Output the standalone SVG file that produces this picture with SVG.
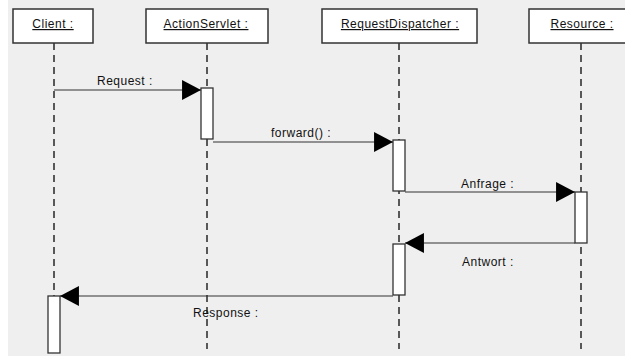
<svg xmlns="http://www.w3.org/2000/svg" width="625" height="356" viewBox="0 0 625 356">
<style>
.bg{fill:#efefef}
.obj{fill:#ffffff;stroke:#333333;stroke-width:1.5}
.act{fill:#ffffff;stroke:#333333;stroke-width:1.3}
.life{stroke:#333333;stroke-width:1.6;stroke-dasharray:7 5;fill:none}
.msg{stroke:#333333;stroke-width:1.2;fill:none;marker-end:url(#head)}
text{font-family:"Liberation Sans",Arial,sans-serif;font-size:12px;letter-spacing:0.5px;fill:#111111}
.hdr{text-anchor:middle;text-decoration:underline}
</style>
<defs>
<marker id="head" markerUnits="userSpaceOnUse" markerWidth="19" markerHeight="20" viewBox="0 0 18 19" refX="18" refY="9.5" orient="auto">
<path d="M0,0 L18,9.5 L0,19 Z" fill="#000000"/>
</marker>
</defs>
<rect x="0" y="0" width="625" height="356" fill="#ffffff"/>
<rect class="bg" x="8" y="0" width="617" height="356"/>
<g id="lifelines">
<line class="life" x1="54" y1="43" x2="54" y2="349"/>
<line class="life" x1="207" y1="43" x2="207" y2="349"/>
<line class="life" x1="399" y1="43" x2="399" y2="349"/>
<line class="life" x1="581" y1="43" x2="581" y2="349"/>
</g>
<g id="node-client">
<rect class="obj" x="13" y="9" width="80" height="34"/>
<text class="hdr" x="53" y="28">Client :</text>
<rect class="act" x="48" y="296" width="12" height="57"/>
</g>
<g id="node-actionservlet">
<rect class="obj" x="146" y="9" width="122" height="34"/>
<text class="hdr" x="206" y="28">ActionServlet :</text>
<rect class="act" x="201" y="88" width="12" height="51"/>
</g>
<g id="node-requestdispatcher">
<rect class="obj" x="322" y="9" width="155" height="34"/>
<text class="hdr" x="400" y="28">RequestDispatcher :</text>
<rect class="act" x="393" y="140" width="12" height="51"/>
<rect class="act" x="393" y="244" width="12" height="51"/>
</g>
<g id="node-resource">
<rect class="obj" x="529" y="9" width="102" height="34"/>
<text class="hdr" x="582" y="28">Resource :</text>
<rect class="act" x="575" y="192" width="12" height="51"/>
</g>
<g id="connectors">
<line class="msg" x1="54" y1="90" x2="201" y2="90"/>
<text x="97" y="85">Request :</text>
<line class="msg" x1="213" y1="142" x2="393" y2="142"/>
<text x="271" y="137">forward() :</text>
<line class="msg" x1="405" y1="192" x2="575" y2="192"/>
<text x="461" y="188">Anfrage :</text>
<line class="msg" x1="575" y1="243" x2="405" y2="243"/>
<text x="462" y="266">Antwort :</text>
<line class="msg" x1="393" y1="296" x2="60" y2="296"/>
<text x="193" y="317">Response :</text>
</g>
</svg>
